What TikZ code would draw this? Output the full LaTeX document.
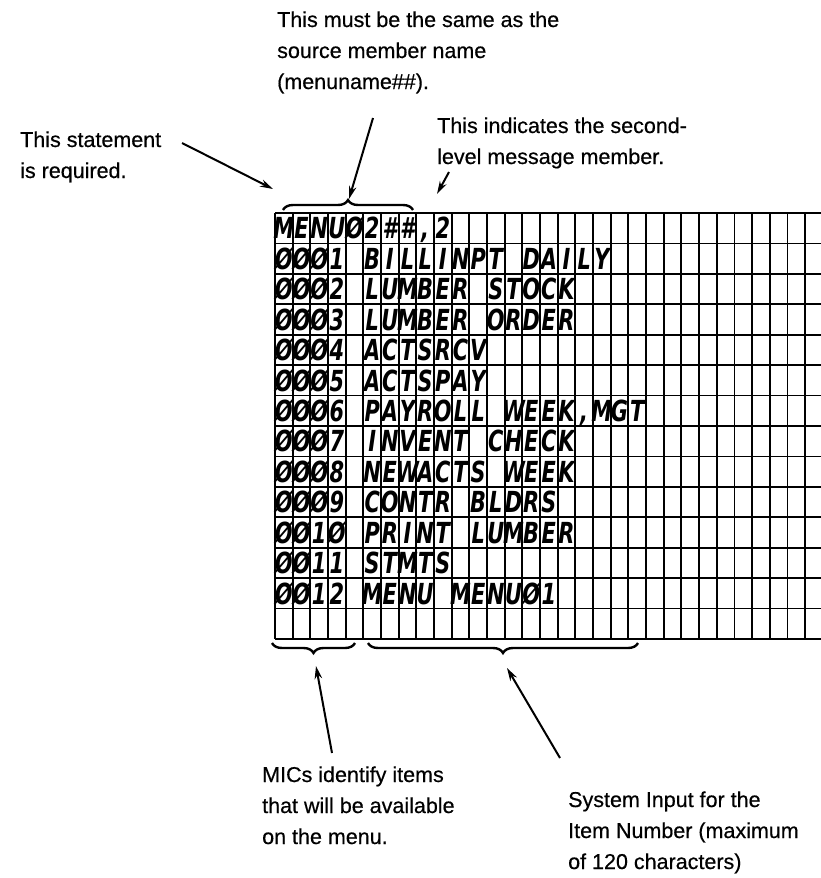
\documentclass[tikz,border=0pt]{standalone}
\usepackage{fontspec}
\setmainfont{Liberation Sans}
\newfontfamily\labelfont{Liberation Sans}[FakeBold=0.5]
\newfontfamily\hand{DejaVu Sans}[FakeStretch=0.72]
\usetikzlibrary{decorations.pathreplacing,arrows.meta}
\newcommand\gridrow[2]{%
  \foreach \t [count=\c from 0] in {#2} {%
    \node[ch] (g#1-\c) at ({275+(\c+0.5)*17.667},{213+(#1+1)*30.43-4.5}) {\t};}}
\begin{document}
\begin{tikzpicture}[x=1pt,y=-1pt,
  lbl/.style={anchor=base west,inner sep=0,font=\labelfont\fontsize{21.5}{31}\selectfont},
  arr/.style={line width=2pt,-{Stealth[length=13pt,width=7.5pt]}},
  brc/.style={decorate,decoration={brace,amplitude=10pt},line width=2.4pt},
  gridline/.style={line width=1.7pt},
  ch/.style={anchor=base,inner sep=0,font=\hand\bfseries\itshape\fontsize{29}{29}\selectfont}]
\useasboundingbox (0,0) rectangle (821,878);
% grid
\foreach \r in {0,...,14} \draw[gridline] (275,{213+\r*30.43}) -- (821,{213+\r*30.43});
\foreach \c in {0,...,30} \draw[gridline] ({275+\c*17.667},213) -- ({275+\c*17.667},639);
% handwritten entries
\gridrow{0}{M,E,N,U,Ø,2,\#,\#,{,},2}
\gridrow{1}{Ø,Ø,Ø,1,{},B,I,L,L,I,N,P,T,{},D,A,I,L,Y}
\gridrow{2}{Ø,Ø,Ø,2,{},L,U,M,B,E,R,{},S,T,O,C,K}
\gridrow{3}{Ø,Ø,Ø,3,{},L,U,M,B,E,R,{},O,R,D,E,R}
\gridrow{4}{Ø,Ø,Ø,4,{},A,C,T,S,R,C,V}
\gridrow{5}{Ø,Ø,Ø,5,{},A,C,T,S,P,A,Y}
\gridrow{6}{Ø,Ø,Ø,6,{},P,A,Y,R,O,L,L,{},W,E,E,K,{,},M,G,T}
\gridrow{7}{Ø,Ø,Ø,7,{},I,N,V,E,N,T,{},C,H,E,C,K}
\gridrow{8}{Ø,Ø,Ø,8,{},N,E,W,A,C,T,S,{},W,E,E,K}
\gridrow{9}{Ø,Ø,Ø,9,{},C,O,N,T,R,{},B,L,D,R,S}
\gridrow{10}{Ø,Ø,1,Ø,{},P,R,I,N,T,{},L,U,M,B,E,R}
\gridrow{11}{Ø,Ø,1,1,{},S,T,M,T,S}
\gridrow{12}{Ø,Ø,1,2,{},M,E,N,U,{},M,E,N,U,Ø,1}
% braces
\draw[brc] (283,210) -- (413,210);
\draw[brc] (355,643) -- (272,643);
\draw[brc] (638,643) -- (368,643);
% labels
\node[lbl] (t1) at (277,27) {This must be the same as the};
\node[lbl] (t2) at (277,58) {source member name};
\node[lbl] (t3) at (277,89) {(menuname\#\#).};
\node[lbl] (i1) at (437,133) {This indicates the second-};
\node[lbl] (i2) at (437,164) {level message member.};
\node[lbl] (s1) at (20,147) {This statement};
\node[lbl] (s2) at (20,178) {is required.};
\node[lbl] (m1) at (262,782) {MICs identify items};
\node[lbl] (m2) at (262,813) {that will be available};
\node[lbl] (m3) at (262,844) {on the menu.};
\node[lbl] (y1) at (568,807) {System Input for the};
\node[lbl] (y2) at (568,838) {Item Number (maximum};
\node[lbl] (y3) at (568,869) {of 120 characters)};
% arrow ends
\coordinate (a1s) at (373,118); \coordinate (a1e) at (349,199);
\coordinate (a2s) at (449,172); \coordinate (a2e) at (437,194);
\coordinate (a3s) at (182,143); \coordinate (a3e) at (273,189);
\coordinate (a4s) at (332,753); \coordinate (a4e) at (316,666);
\coordinate (a5s) at (560,758); \coordinate (a5e) at (507,668);
\draw[arr] (a1s) -- (a1e);
\draw[arr] (a2s) -- (a2e);
\draw[arr] (a3s) -- (a3e);
\draw[arr] (a4s) -- (a4e);
\draw[arr] (a5s) -- (a5e);
\end{tikzpicture}
\end{document}
